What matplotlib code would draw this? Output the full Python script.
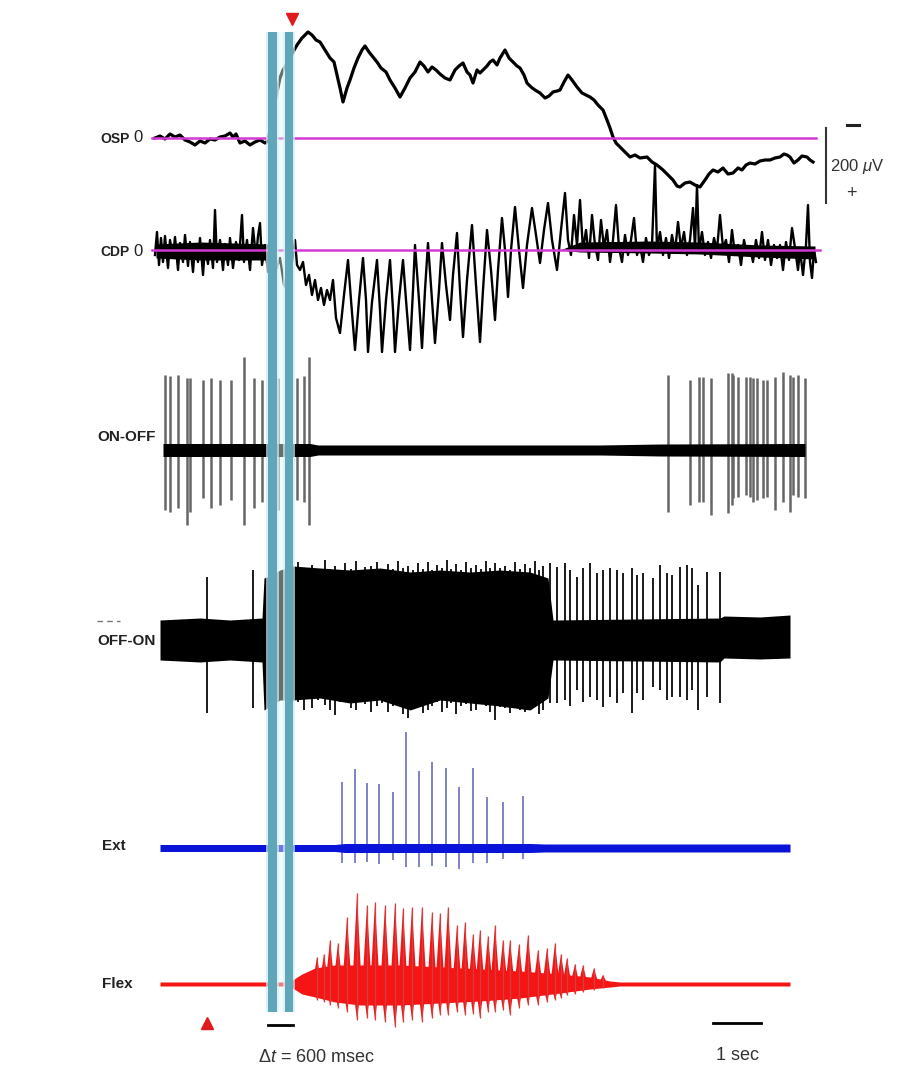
import numpy as np
import matplotlib
matplotlib.use('Agg')
import matplotlib.pyplot as plt

# ─── Time base: values are in "units", 48 units = 1 sec ───────────────────────
SEC = 48

# ─── OSP (slow potential), pairs (time, deflection) ──────────────────────────
OSP = [(155, 0), (160, 2), (165, -1), (170, 4), (175, 1), (180, 3), (185, -2), (190, -4),
       (195, -7), (200, -3), (205, -5), (210, -1), (215, -2), (220, 1), (225, 2), (230, 5),
       (233, 1), (236, 4), (240, -5), (245, -3), (250, -7), (255, -4), (260, -2), (265, -5),
       (268, -3), (272, 18), (276, 41), (280, 60), (283, 68), (288, 76), (293, 86), (297, 93),
       (302, 100), (308, 106), (312, 103), (316, 98), (320, 96), (325, 88), (330, 80),
       (334, 76), (337, 63), (340, 50), (343, 36), (347, 50), (350, 58), (354, 70), (358, 80),
       (362, 88), (365, 92), (369, 86), (373, 81), (377, 76), (381, 70), (386, 66), (390, 58),
       (395, 50), (400, 41), (405, 50), (410, 60), (415, 66), (420, 76), (424, 72), (428, 66),
       (432, 71), (436, 68), (440, 64), (445, 60), (450, 58), (455, 68), (459, 72), (463, 75),
       (467, 66), (470, 63), (473, 55), (477, 68), (480, 65), (483, 68), (487, 72), (490, 76),
       (493, 78), (497, 73), (500, 80), (505, 88), (509, 80), (513, 76), (517, 72), (520, 70),
       (524, 63), (527, 55), (531, 51), (535, 48), (540, 45), (545, 40), (549, 42), (553, 46),
       (557, 47), (560, 48), (564, 56), (568, 63), (572, 58), (577, 51), (582, 45), (586, 43),
       (590, 41), (594, 38), (598, 33), (603, 28), (607, 18), (610, 10), (613, 1), (616, -5),
       (620, -9), (625, -14), (630, -19), (635, -17), (640, -20), (647, -19), (652, -24),
       (657, -27), (663, -32), (668, -37), (673, -42), (677, -48), (680, -49), (685, -45),
       (690, -44), (695, -47), (700, -49), (705, -42), (709, -36), (713, -32), (718, -34),
       (723, -30), (728, -36), (733, -35), (738, -30), (742, -32), (746, -27), (750, -25),
       (755, -26), (760, -23), (765, -22), (770, -22), (775, -20), (780, -19), (784, -16),
       (787, -17), (790, -19), (794, -25), (798, -22), (802, -18), (807, -19), (810, -22),
       (813, -24)]

# ─── CDP (cord dorsum potential) ──────────────────────────────────────────────
CDP = [(155, -5), (157, 18), (159, -15), (161, 12), (163, -12), (165, 14), (168, -18), (170, 10),
       (173, -8), (175, 13), (178, -20), (180, 7), (183, -12), (185, 15), (188, -16), (190, 8),
       (193, -22), (195, 5), (198, -12), (200, 12), (203, -25), (205, 4), (208, -14), (210, 10),
       (213, -18), (215, 40), (217, -12), (220, 10), (223, -20), (225, 6), (228, -15), (230, 12),
       (233, -18), (236, 8), (239, -10), (242, 35), (244, -12), (247, 10), (250, -20), (253, 22),
       (256, -8), (258, 14), (260, 27), (262, -15), (265, 5), (268, -22), (272, -12), (276, -20),
       (280, -8), (284, -35), (288, -40), (292, -12), (295, 10), (297, -15), (300, -20),
       (303, -12), (306, -35), (309, -25), (312, -45), (315, -30), (318, -50), (321, -38),
       (324, -55), (327, -40), (330, -50), (333, -30), (336, -68), (340, -83), (344, -45),
       (348, -10), (351, -50), (355, -100), (359, -50), (363, -8), (366, -50), (368, -102),
       (372, -52), (377, -10), (380, -60), (382, -102), (386, -50), (390, -10), (393, -60),
       (395, -102), (399, -50), (403, -10), (406, -50), (410, -100), (413, -40), (415, 5),
       (419, -50), (422, -98), (425, -40), (428, 7), (432, -50), (435, -93), (439, -40),
       (442, 7), (446, -35), (450, -70), (453, -25), (457, 17), (460, -40), (463, -87),
       (467, -30), (472, 25), (476, -35), (480, -92), (483, -40), (487, 20), (491, -20),
       (495, -70), (498, -20), (502, 32), (505, 0), (508, -47), (511, 0), (515, 43), (519, 0),
       (523, -38), (527, 5), (532, 42), (536, 15), (540, -13), (544, 20), (548, 47), (552, 10),
       (557, -20), (561, 20), (565, 57), (568, 10), (571, -5), (574, 35), (577, 5), (580, 50),
       (583, 0), (586, 20), (589, -8), (592, 35), (595, 5), (598, -10), (601, 30), (604, 2),
       (607, 20), (610, -12), (613, 10), (616, 45), (619, 2), (622, -12), (625, 15), (628, -5),
       (631, 10), (634, 32), (637, -5), (640, 5), (643, -12), (646, 12), (649, -5), (652, 5),
       (655, 85), (657, 0), (660, 18), (663, -5), (666, 12), (669, -8), (672, 15), (675, -2),
       (678, 28), (681, 2), (684, 18), (687, -5), (690, 10), (693, 42), (695, 2), (697, 65),
       (699, 0), (702, 18), (705, -5), (708, 8), (711, -8), (714, 12), (717, 0), (720, 35),
       (723, 2), (726, 10), (729, -12), (732, 20), (735, -5), (738, 5), (741, -15), (744, 10),
       (747, -5), (750, 4), (753, -12), (756, 10), (759, -8), (762, 18), (765, -10), (768, 10),
       (771, -15), (774, 5), (777, -8), (780, 5), (783, -20), (786, 8), (789, -10), (792, 22),
       (795, 2), (798, -20), (800, 0), (803, -25), (806, 5), (808, 45), (810, -12), (812, -28),
       (814, 0), (816, -12)]
# dense noise core of CDP (time, top, bottom)
CDP_CORE = [(156, 6, -8), (200, 8, -10), (268, 6, -10), (272, 0, 0), (560, 0, 0),
            (580, 8, -2), (650, 9, -3), (700, 8, -4), (760, 5, -7), (815, 4, -9)]

# ─── ON-OFF unit: baseline band (time, half width) and spikes (time, top, bottom)
ONOFF_BAND = [(163, 6.5), (310, 6.5), (318, 5), (600, 5), (660, 6), (805, 6.5)]
ONOFF_SPIKES = [(165, 75, -60), (170, 74, -62), (178, 75, -58), (187, 72, -75), (190, 72, -62),
                (203, 70, -48), (211, 72, -58), (220, 70, -55), (231, 70, -50), (244, 93, -75),
                (254, 72, -58), (262, 70, -52), (278, 72, -60), (297, 72, -50), (304, 74, -52),
                (309, 93, -75),
                (668, 75, -62), (690, 70, -55), (699, 73, -52), (703, 73, -52), (711, 72, -65),
                (728, 77, -63), (732, 77, -55), (733, 75, -48), (738, 73, -47), (746, 73, -45),
                (750, 73, -47), (753, 72, -52), (757, 72, -50), (763, 70, -48), (767, 70, -47),
                (775, 73, -60), (783, 78, -52), (790, 75, -62), (793, 73, -45), (798, 75, -47),
                (805, 72, -48)]

# ─── OFF-ON unit: envelope (time, top, bottom) and spikes ────────────────────
OFFON_ENV = [(160, 20, -20), (200, 22, -22), (230, 20, -20), (262, 22, -22), (264, 62, -70),
             (272, 65, -65), (280, 70, -60), (293, 74, -60), (320, 72, -58), (350, 70, -63),
             (380, 72, -60), (410, 68, -70), (440, 70, -60), (470, 68, -63), (500, 70, -66),
             (530, 68, -70), (548, 62, -58), (553, 20, -20), (720, 22, -22), (724, 24, -18),
             (760, 23, -19), (790, 25, -18)]
OFFON_SPIKES = [(207, 63, -73), (253, 70, -68),
                (298, 78, -62), (304, 72, -70), (312, 75, -68), (318, 70, -60), (325, 80, -65),
                (330, 71, -70), (335, 74, -75), (340, 69, -62), (345, 77, -60), (351, 71, -68),
                (356, 79, -70), (361, 70, -62), (365, 73, -64), (371, 74, -72), (377, 78, -66),
                (382, 70, -63), (388, 76, -72), (393, 71, -66), (398, 79, -62), (403, 72, -74),
                (408, 74, -78), (413, 70, -68), (418, 77, -66), (423, 71, -73), (428, 78, -70),
                (432, 70, -66), (437, 75, -62), (442, 72, -72), (447, 80, -68), (451, 71, -63),
                (456, 76, -74), (461, 70, -66), (466, 78, -64), (471, 72, -71), (476, 75, -70),
                (481, 71, -64), (486, 79, -66), (490, 72, -72), (495, 77, -80), (500, 72, -67),
                (505, 74, -68), (510, 70, -73), (515, 78, -64), (520, 71, -70), (525, 76, -72),
                (530, 72, -66), (535, 79, -66), (539, 70, -74), (543, 74, -70),
                (550, 77, -63), (557, 73, -63), (565, 77, -60), (570, 70, -66), (577, 63, -50),
                (583, 72, -62), (590, 77, -57), (597, 67, -60), (603, 70, -67), (610, 72, -57),
                (617, 70, -63), (623, 67, -53), (632, 72, -73), (637, 65, -53), (643, 67, -60),
                (653, 62, -47), (660, 75, -50), (667, 67, -60), (672, 65, -57), (680, 73, -57),
                (687, 75, -60), (692, 72, -50), (698, 55, -70), (707, 68, -57), (720, 68, -63)]

# ─── Ext (extensor ENG) ──────────────────────────────────────────────────────
EXT_BAND = [(160, 3.5), (335, 3.5), (345, 4.5), (530, 4.5), (545, 4), (790, 4)]
EXT_SPIKES = [(342, 66, -15), (355, 79, -15), (367, 65, -14), (379, 64, -16), (393, 56, -12),
              (406, 116, -19), (419, 77, -19), (432, 86, -18), (446, 80, -19), (459, 61, -21),
              (473, 80, -15), (487, 51, -15), (503, 46, -11), (523, 52, -11)]

# ─── Flex (flexor ENG): envelope and bursts ───────────────────────────────────
FLEX_ENV = [(160, 2, -2), (290, 2, -2), (294, 5, -5), (302, 10, -10), (315, 16, -13),
            (335, 19, -18), (360, 19, -21), (400, 19, -21), (440, 17, -19), (480, 15, -17),
            (520, 13, -14), (560, 10, -9), (590, 7, -5), (610, 3, -3), (620, 2, -2),
            (790, 2, -2)]
FLEX_BURSTS = [(317, 27, -16), (324, 30, -18), (330, 44, -21), (338, 41, -24), (347, 67, -28),
               (357, 91, -36), (367, 79, -34), (375, 82, -36), (385, 79, -38), (395, 81, -43),
               (403, 76, -38), (412, 77, -36), (422, 77, -38), (432, 72, -34), (440, 71, -31),
               (448, 77, -31), (457, 59, -28), (465, 62, -31), (473, 50, -30), (480, 54, -34),
               (488, 48, -28), (495, 59, -28), (503, 44, -26), (510, 44, -31), (519, 40, -24),
               (528, 49, -21), (538, 34, -21), (547, 36, -18), (555, 41, -16), (561, 30, -14),
               (567, 26, -11), (575, 20, -10), (583, 19, -8), (594, 16, -6), (603, 9, -4)]

# ─── Layout (baselines, marker positions, widths) ────────────────────────────
BASE = {'OSP': 932, 'CDP': 820, 'ONOFF': 620, 'OFFON': 430, 'EXT': 222, 'FLEX': 86}
BANDS = [(268, 277), (285, 293)]
BAND_Y = (58, 1038)
BURST_HALF = 4.5

plt.rcParams.update({
    "font.family": ["Liberation Sans", "DejaVu Sans"],
    "mathtext.fontset": "custom",
    "mathtext.rm": "Liberation Sans",
    "mathtext.it": "Liberation Sans:italic",
})

fig = plt.figure(figsize=(9.05, 10.7), dpi=100)
ax = fig.add_axes([0, 0, 1, 1])
ax.set_xlim(0, 905)
ax.set_ylim(0, 1070)
ax.axis('off')


def spikes(data, base, **kw):
    t, top, bot = np.array(data, dtype=float).T
    ax.vlines(t, base + bot, base + top, **kw)


def band(data, base, **kw):
    t, hw = np.array(data, dtype=float).T
    ax.fill_between(t, base - hw, base + hw, linewidth=0, **kw)


def envelope(data, base, **kw):
    t, top, bot = np.array(data, dtype=float).T
    ax.fill_between(t, base + bot, base + top, linewidth=0, **kw)


# OSP
t, v = np.array(OSP, dtype=float).T
ax.plot(t, BASE['OSP'] + v, color='black', lw=2.3, zorder=3)
ax.plot([152, 816], [BASE['OSP']] * 2, color='#d23ad2', lw=1.8, zorder=4)

# CDP
t, v = np.array(CDP, dtype=float).T
ax.plot(t, BASE['CDP'] + v, color='black', lw=1.7, zorder=3)
envelope(CDP_CORE, BASE['CDP'], color='black', zorder=3)
ax.plot([152, 820], [BASE['CDP']] * 2, color='#d23ad2', lw=1.8, zorder=4)

# ON-OFF
band(ONOFF_BAND, BASE['ONOFF'], color='black', zorder=3)
spikes(ONOFF_SPIKES, BASE['ONOFF'], color='#666666', lw=1.8, zorder=2)

# OFF-ON
envelope(OFFON_ENV, BASE['OFFON'], color='black', zorder=3)
spikes(OFFON_SPIKES, BASE['OFFON'], color='#1a1a1a', lw=1.4, zorder=2)
ax.plot([97, 120], [449, 449], color='#777777', lw=1, ls=(0, (4, 3)))

# Ext
band(EXT_BAND, BASE['EXT'], color='#0a14d8', zorder=3)
spikes(EXT_SPIKES, BASE['EXT'], color='#5a62b8', lw=1.1, zorder=2)

# Flex: envelope plus spindle-shaped bursts
envelope(FLEX_ENV, BASE['FLEX'], color='#f51515', zorder=3)
for tb, top, bot in FLEX_BURSTS:
    ax.fill([tb - BURST_HALF, tb, tb + BURST_HALF, tb],
            [BASE['FLEX'], BASE['FLEX'] + top, BASE['FLEX'], BASE['FLEX'] + bot],
            color='#f51515', linewidth=0, zorder=3)
spikes(FLEX_BURSTS, BASE['FLEX'], color='#d04040', lw=0.9, zorder=3)

# Blue analysis bands
for x0, x1 in BANDS:
    ax.fill_between([x0 - 2, x1 + 2], BAND_Y[0], BAND_Y[1], color='#cfeaf2',
                    alpha=0.7, linewidth=0, zorder=5)
    ax.fill_between([x0, x1], BAND_Y[0], BAND_Y[1], color='#5fa6b8',
                    linewidth=0, zorder=6)
ax.fill_between([BANDS[0][1], BANDS[1][0]], BAND_Y[0], BAND_Y[1], color='#e6f6fb',
                alpha=0.45, linewidth=0, zorder=5)

# Trace labels
lab = dict(fontweight='bold', va='center', ha='left', color='#222222')
ax.text(100, 931, 'OSP', fontsize=10, **lab)
ax.text(100, 818, 'CDP', fontsize=10, **lab)
ax.text(97, 633, 'ON-OFF', fontsize=11, **lab)
ax.text(97, 429, 'OFF-ON', fontsize=11, **lab)
ax.text(102, 224, 'Ext', fontsize=11, **lab)
ax.text(102, 86, 'Flex', fontsize=11, **lab)
ax.text(133, 932, '0', fontsize=12, va='center', ha='left', color='#222222')
ax.text(133, 819, '0', fontsize=12, va='center', ha='left', color='#222222')

# Voltage scale bar
ax.plot([826, 826], [867, 942], color='#333333', lw=1.5)
ax.plot([847, 859], [945, 945], color='#222222', lw=2.2)
ax.text(830, 904, r'200 $\mathit{\mu}$V', fontsize=12, va='center', ha='left', color='#333333')
ax.text(851, 877, '+', fontsize=13, va='center', ha='center', color='#333333')

# Stimulus markers and time bars
ax.plot([207], [47], marker='^', color='#e01a1a', markersize=9, ls='none')
ax.plot([292], [1051], marker='v', color='#e01a1a', markersize=9, ls='none')
ax.plot([BANDS[0][0], BANDS[1][1]], [45, 45], color='black', lw=2)
ax.text(258, 12, r'$\Delta\mathit{t}$ = 600 msec', fontsize=13, ha='left', va='center',
        color='#333333')
ax.plot([713, 713 + SEC], [47, 47], color='black', lw=2)
ax.text(737, 15, '1 sec', fontsize=13, ha='center', va='center', color='#333333')

fig.savefig('out.png', dpi=100, facecolor='white')
